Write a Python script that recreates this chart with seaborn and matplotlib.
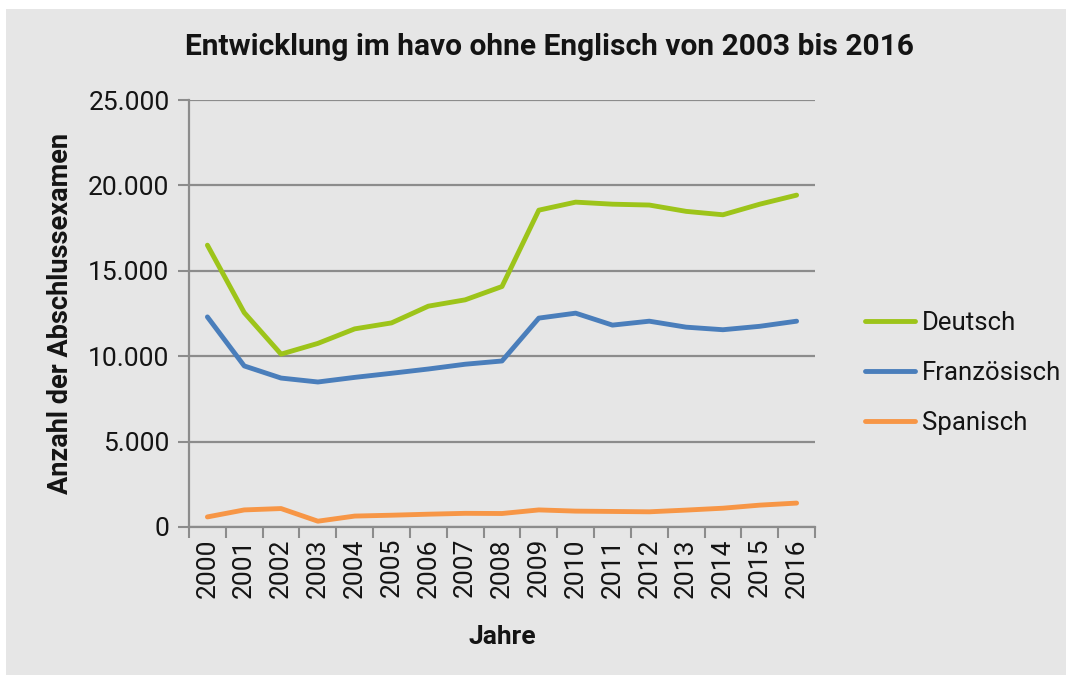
import matplotlib
matplotlib.use("Agg")
import matplotlib.pyplot as plt
import seaborn as sns
import pandas as pd
from matplotlib.patches import Rectangle

years = [str(y) for y in range(2000, 2017)]
deutsch = [16500, 12550, 10120, 10750, 11600, 11950, 12930, 13300, 14080,
           18550, 19020, 18900, 18850, 18480, 18280, 18900, 19430]
franzoesisch = [12300, 9430, 8720, 8490, 8760, 9000, 9250, 9530, 9720,
                12230, 12520, 11820, 12050, 11700, 11550, 11750, 12050]
spanisch = [590, 1000, 1080, 340, 640, 690, 750, 800, 790,
            1000, 930, 910, 890, 990, 1100, 1280, 1400]

series_names = ["Deutsch", "Französisch", "Spanisch"]
colors = ["#9dc41a", "#4a7ebb", "#f79646"]

df = pd.DataFrame({
    "Jahr": years * 3,
    "Wert": deutsch + franzoesisch + spanisch,
    "Sprache": sum([[n] * len(years) for n in series_names], []),
})
df["pos"] = df["Jahr"].map({y: i for i, y in enumerate(years)})

sns.set_theme(style="white")
plt.rcParams["font.family"] = ["Roboto", "DejaVu Sans"]

txt = "#141414"
bg = "#e6e6e6"
fig = plt.figure(figsize=(10.66, 6.75), dpi=100, facecolor="white")
fig.patches.append(Rectangle((6 / 1066, 0.0), 1 - 6 / 1066, 1 - 9 / 675,
                             transform=fig.transFigure, facecolor=bg,
                             edgecolor="none", zorder=-10))
ax = fig.add_axes([189 / 1066, 1 - 527 / 675, (815 - 189) / 1066, (527 - 100) / 675])
ax.set_facecolor(bg)
ax.set_zorder(1)

sns.lineplot(data=df, x="pos", y="Wert", hue="Sprache", palette=colors,
             hue_order=series_names, linewidth=3.5, ax=ax, legend=True)

ax.set_xlim(-0.5, len(years) - 0.5)
ax.set_ylim(0, 25000)
yt = [0, 5000, 10000, 15000, 20000, 25000]
ax.set_yticks(yt)
ax.set_yticklabels(["0" if v == 0 else f"{v:,}".replace(",", ".") for v in yt],
                   fontsize=19, color=txt)
ax.set_xticks(range(len(years)))
ax.set_xticklabels(years, rotation=90, fontsize=19, color=txt)
ax.set_xticks([i - 0.5 for i in range(len(years) + 1)], minor=True)
ax.tick_params(axis="x", which="major", length=0, pad=8)
ax.tick_params(axis="x", which="minor", length=8, width=1.5, color="#8c8c8c", bottom=True)
ax.tick_params(axis="y", which="major", length=8, width=1.5, color="#8c8c8c", left=True, pad=6)

ax.grid(axis="y", color="#8c8c8c", linewidth=1.6)
ax.set_axisbelow(True)
for s in ["top", "right"]:
    ax.spines[s].set_visible(False)
for s in ["left", "bottom"]:
    ax.spines[s].set_color("#8c8c8c")
    ax.spines[s].set_linewidth(1.6)

ax.set_xlabel("Jahre", fontsize=19, fontweight="bold", labelpad=20, color=txt)
ax.set_ylabel("Anzahl der Abschlussexamen", fontsize=19.5, fontweight="bold", labelpad=10, color=txt)
fig.text(549 / 1066, 1 - 47 / 675, "Entwicklung im havo ohne Englisch von 2003 bis 2016",
         ha="center", va="center", fontsize=21.5, fontweight="bold", color=txt)

ax.get_legend().remove()
handles, labels = ax.get_legend_handles_labels()
leg = fig.legend(handles, labels, loc="center left", bbox_to_anchor=(855 / 1066, 1 - 373 / 675),
                 frameon=False, handlelength=1.95, handletextpad=0.25,
                 labelspacing=1.0, borderaxespad=0, prop={"size": 18.5})
for t in leg.get_texts():
    t.set_color(txt)

fig.savefig("out.png", dpi=100, facecolor="white")
